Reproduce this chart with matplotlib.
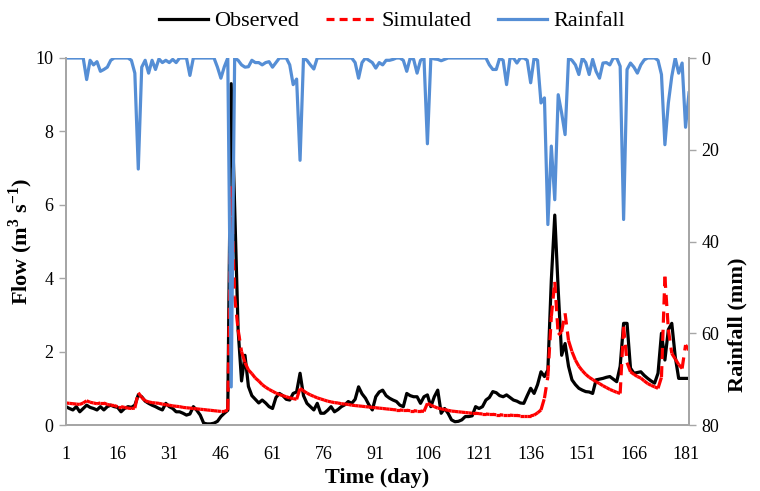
import numpy as np
import matplotlib
matplotlib.use("Agg")
import matplotlib.pyplot as plt
from matplotlib.collections import LineCollection
from matplotlib.lines import Line2D

plt.rcParams['font.family'] = ['Liberation Serif', 'DejaVu Serif']
plt.rcParams['mathtext.fontset'] = 'custom'
plt.rcParams['mathtext.rm'] = 'Liberation Serif'
plt.rcParams['mathtext.bf'] = 'Liberation Serif:bold'

days = np.arange(1, 183)

# observed flow (m3/s), day 1..182
observed = [
    0.50, 0.45, 0.41, 0.50, 0.36, 0.45, 0.54, 0.48, 0.45, 0.41,
    0.50, 0.41, 0.50, 0.54, 0.50, 0.48, 0.36, 0.45, 0.50, 0.48,
    0.54, 0.82, 0.77, 0.65, 0.59, 0.54, 0.50, 0.45, 0.41, 0.59,
    0.50, 0.45, 0.36, 0.36, 0.32, 0.27, 0.30, 0.50, 0.40, 0.27,
    0.05, 0.03, 0.03, 0.05, 0.10, 0.23, 0.32, 0.40, 9.30, 6.00,
    2.60, 1.20, 1.90, 1.05, 0.80, 0.70, 0.60, 0.68, 0.60, 0.50,
    0.45, 0.75, 0.86, 0.80, 0.70, 0.68, 0.86, 0.90, 1.41, 0.80,
    0.59, 0.50, 0.41, 0.59, 0.32, 0.32, 0.40, 0.50, 0.36, 0.42,
    0.50, 0.55, 0.64, 0.59, 0.70, 1.04, 0.85, 0.73, 0.55, 0.41,
    0.77, 0.90, 0.95, 0.80, 0.73, 0.68, 0.64, 0.54, 0.50, 0.86,
    0.80, 0.77, 0.77, 0.59, 0.77, 0.82, 0.50, 0.77, 0.95, 0.32,
    0.45, 0.32, 0.14, 0.09, 0.10, 0.14, 0.23, 0.23, 0.25, 0.50,
    0.45, 0.50, 0.68, 0.75, 0.91, 0.88, 0.80, 0.77, 0.82, 0.75,
    0.68, 0.65, 0.60, 0.59, 0.80, 1.00, 0.86, 1.10, 1.45, 1.32,
    1.50, 3.95, 5.72, 3.68, 1.90, 2.22, 1.60, 1.23, 1.10, 1.00,
    0.95, 0.91, 0.90, 0.86, 1.23, 1.25, 1.27, 1.30, 1.32, 1.25,
    1.18, 1.60, 2.77, 2.77, 1.55, 1.41, 1.43, 1.45, 1.35, 1.27,
    1.20, 1.14, 1.41, 2.50, 1.77, 2.60, 2.77, 1.86, 1.27, 1.27,
    1.27, 1.27,
]

# simulated flow (m3/s)
simulated = [
    0.60, 0.59, 0.58, 0.57, 0.56, 0.60, 0.66, 0.62, 0.60, 0.58,
    0.60, 0.60, 0.56, 0.54, 0.53, 0.50, 0.50, 0.48, 0.46, 0.45,
    0.46, 0.88, 0.75, 0.66, 0.63, 0.61, 0.60, 0.59, 0.57, 0.55,
    0.54, 0.52, 0.51, 0.50, 0.48, 0.47, 0.46, 0.45, 0.44, 0.43,
    0.42, 0.41, 0.40, 0.39, 0.38, 0.37, 0.37, 0.41, 6.50, 3.50,
    2.60, 2.00, 1.70, 1.50, 1.40, 1.28, 1.20, 1.10, 1.03, 0.97,
    0.92, 0.87, 0.83, 0.80, 0.77, 0.74, 0.72, 0.70, 1.00, 0.93,
    0.87, 0.82, 0.78, 0.74, 0.71, 0.68, 0.65, 0.63, 0.61, 0.60,
    0.58, 0.57, 0.56, 0.54, 0.53, 0.52, 0.51, 0.50, 0.49, 0.48,
    0.47, 0.46, 0.45, 0.44, 0.43, 0.42, 0.41, 0.41, 0.40, 0.40,
    0.39, 0.39, 0.38, 0.38, 0.37, 0.59, 0.54, 0.50, 0.46, 0.44,
    0.42, 0.40, 0.38, 0.37, 0.36, 0.35, 0.34, 0.33, 0.32, 0.32,
    0.31, 0.30, 0.30, 0.29, 0.29, 0.28, 0.28, 0.27, 0.27, 0.27,
    0.26, 0.26, 0.25, 0.25, 0.25, 0.25, 0.27, 0.33, 0.41, 0.73,
    1.32, 2.95, 3.90, 2.45, 2.54, 3.04, 2.30, 2.00, 1.77, 1.60,
    1.48, 1.38, 1.30, 1.24, 1.18, 1.13, 1.07, 1.02, 0.97, 0.93,
    0.89, 0.86, 2.68, 1.70, 1.45, 1.38, 1.32, 1.28, 1.20, 1.13,
    1.08, 1.04, 1.00, 1.30, 4.04, 2.60, 1.95, 1.80, 1.65, 1.54,
    2.18, 2.04,
]

# rainfall (mm)
rainfall = [
    0, 0, 0, 0, 0, 0, 4.7, 0.5, 1.5, 0.8,
    2.9, 2.5, 2.0, 0.5, 0, 0, 0, 0, 0, 0.5,
    3.3, 24.2, 2.0, 0.5, 3.3, 0.5, 2.5, 0.2, 1.0, 0.5,
    1.0, 0.3, 1.0, 0, 0, 0, 3.8, 0, 0, 0,
    0, 0, 0, 0, 2.0, 4.4, 1.9, 0, 71.7, 0,
    0.5, 1.5, 2.0, 1.9, 0.5, 1.0, 1.0, 1.5, 1.0, 0.8,
    2.0, 1.0, 0, 0, 0, 1.5, 5.8, 4.6, 22.3, 0,
    0.5, 1.5, 2.4, 0, 0, 0, 0, 0, 0, 0,
    0, 0, 0, 0, 1.0, 4.4, 1.0, 0, 0.5, 1.0,
    2.2, 1.0, 1.5, 0.5, 0.5, 0.3, 0, 0, 0.5, 2.9,
    0, 0.3, 3.3, 0.5, 0, 18.7, 0, 0.2, 0.3, 0.6,
    0.3, 0, 0, 0, 0, 0, 0, 0, 0, 0,
    0, 0, 0, 1.5, 2.5, 2.5, 0, 0.5, 5.8, 0,
    0, 1.1, 0, 0, 0.5, 5.4, 0, 0.5, 9.8, 8.7,
    36.3, 19.2, 30.9, 8.0, 12.0, 16.7, 0, 0.5, 1.5, 3.6,
    0, 1.0, 3.6, 0.3, 2.9, 4.4, 1.1, 1.0, 1.5, 0,
    0, 1.8, 35.2, 2.5, 1.1, 2.0, 3.3, 1.5, 0.4, 0,
    0, 0, 0.5, 3.6, 18.9, 9.8, 4.0, 0, 3.3, 1.1,
    15.1, 7.6,
]

xticks = np.arange(1, 182, 15)
grey = '#a6a6a6'
blue = '#558ed5'

fig = plt.figure(figsize=(7.6, 4.91), dpi=100)
ax = fig.add_axes([66 / 760, 1 - 425 / 491, 623 / 760, 367 / 491])

ax.plot(days, observed, color='black', lw=2.3, solid_joinstyle='round')

# excel restarts the dash pattern on every segment
pts = np.column_stack([days, simulated])
segs = np.stack([pts[:-1], pts[1:]], axis=1)
lc = LineCollection(segs, colors='red', linewidths=2.3,
                    linestyles=[(0, (3.5, 2.2))], capstyle='butt')
ax.add_collection(lc)

ax.set_xlim(1, 182)
ax.set_ylim(0, 10)
ax.set_xticks(xticks)
ax.set_yticks(np.arange(0, 11, 2))
ax.tick_params(axis='x', length=0, pad=15, labelsize=13)
ax.tick_params(axis='y', direction='out', length=5, width=1, color=grey,
               labelsize=13, pad=4)
ax.spines['top'].set_visible(False)
for s in ['left', 'right', 'bottom']:
    ax.spines[s].set_color(grey)
    ax.spines[s].set_linewidth(1.3)
ax.set_xlabel('Time (day)', fontsize=16, fontweight='bold')
ax.xaxis.set_label_coords(0.499, -0.118)
ax.set_ylabel(r'Flow (m$^{\mathbf{3}}$ s$^{\mathbf{-1}}$)', fontsize=16,
              fontweight='bold')
ax.yaxis.set_label_coords(-0.05, 0.5)

ax2 = ax.twinx()
ax2.plot(days, rainfall, color=blue, lw=2.3)
ax2.set_ylim(80, 0)
ax2.set_yticks(np.arange(0, 81, 20))
ax2.tick_params(axis='y', direction='out', length=5, width=1, color=grey,
                labelsize=13, pad=4)
ax2.spines['top'].set_visible(False)
for s in ['left', 'right', 'bottom']:
    ax2.spines[s].set_color(grey)
    ax2.spines[s].set_linewidth(1.3)
ax2.set_ylabel('Rainfall (mm)', fontsize=16, fontweight='bold',
               rotation=90)
ax2.yaxis.set_label_coords(1.062, 0.272)

handles = [
    Line2D([], [], color='black', lw=2.3),
    Line2D([], [], color='red', lw=2.3, dashes=(2.5, 1.6)),
    Line2D([], [], color=blue, lw=2.3),
]
fig.legend(handles, ['Observed', 'Simulated', 'Rainfall'], loc='center',
           bbox_to_anchor=(0.516, 0.957), ncol=3, frameon=False,
           fontsize=16, handlelength=2.2, handletextpad=0.3,
           columnspacing=1.2)

fig.savefig('out.png', dpi=100)
